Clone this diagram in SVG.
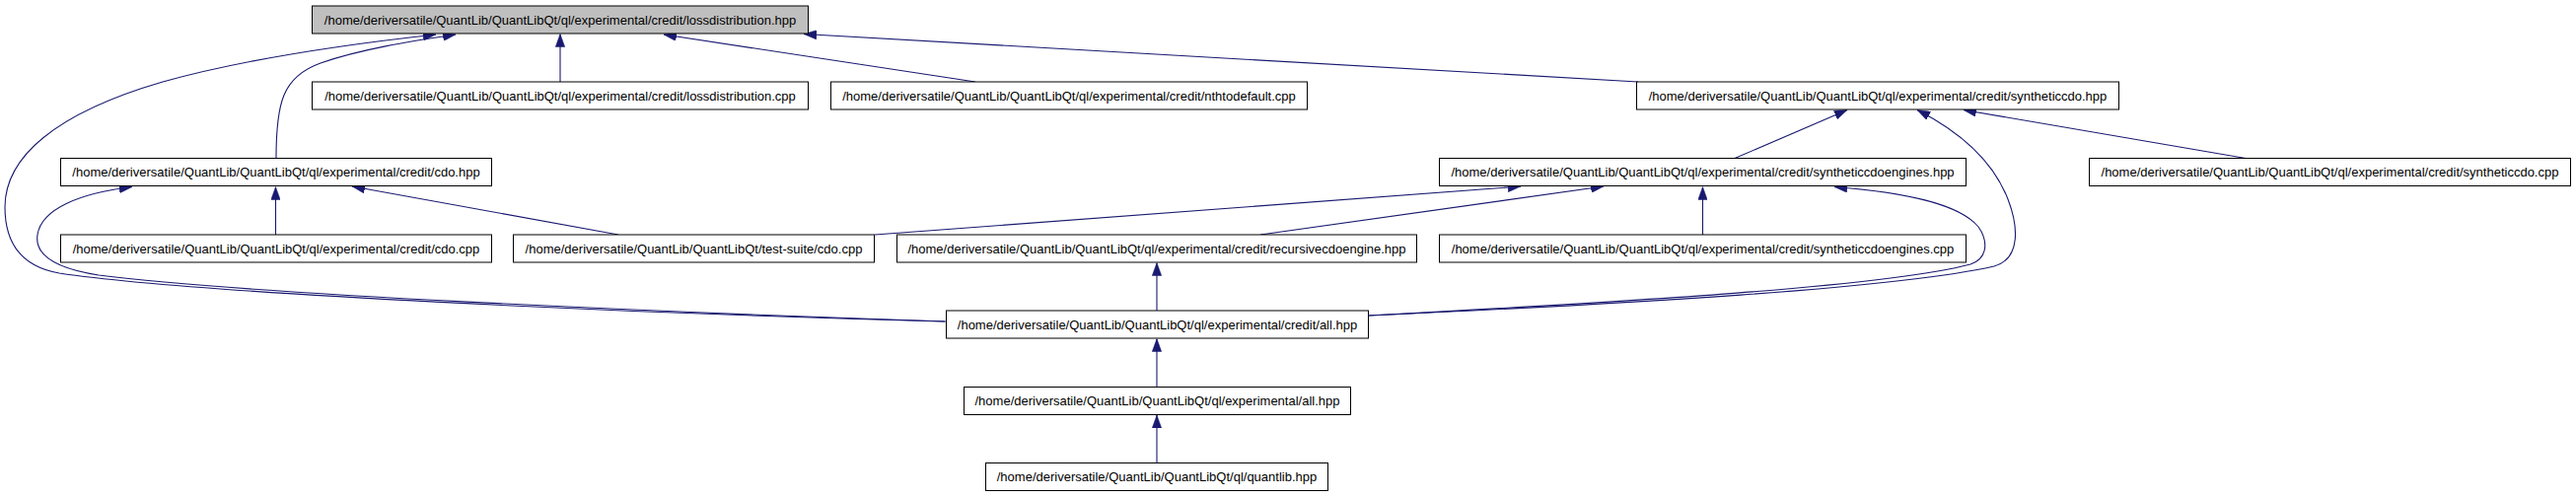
<svg xmlns="http://www.w3.org/2000/svg" width="2612" height="504" viewBox="0 0 2612 504">
<style>
.node rect{fill:#ffffff;stroke:#000000;stroke-width:1}
.node.root rect{fill:#bfbfbf}
.node text{font-family:"Liberation Sans",Arial,Helvetica,sans-serif;font-size:13px;fill:#000000;text-anchor:middle}
.edge{fill:none;stroke:#191970;stroke-width:1.1;marker-end:url(#arr)}
</style>
<defs>
<marker id="arr" viewBox="0 0 13 9.4" markerWidth="13" markerHeight="9.4" refX="13" refY="4.7" orient="auto" markerUnits="userSpaceOnUse">
<path d="M0,0 L13,4.7 L0,9.4 Z" fill="#191970" stroke="#191970" stroke-width="0.5"/>
</marker>
</defs>
<rect x="0" y="0" width="2612" height="504" fill="#ffffff"/>
<g id="connectors">
<path class="edge" d="M568,83 L568,34.5"/>
<path class="edge" d="M989,83 L673,35"/>
<path class="edge" d="M1661,83 L815,34.5"/>
<path class="edge" d="M280,160.5 C280,105 286,78 325,64 C365,50 415,42 462,35"/>
<path class="edge" d="M958.5,326 C650,318 200,298 60,277 C20,270 5,245 5,210 C5,160 55,115 165,83 C255,58 360,44 442,35"/>
<path class="edge" d="M279.5,238 L279.5,189.5"/>
<path class="edge" d="M627,238 L357,189"/>
<path class="edge" d="M958.5,326 C650,316 250,298 100,279 C55,272 35,258 38,238 C42,212 80,196 134,189.5"/>
<path class="edge" d="M1759,160.5 L1873,111.5"/>
<path class="edge" d="M2277,160.5 L1991,111.5"/>
<path class="edge" d="M1387.5,320 C1650,308 1920,293 2022,270 C2050,262 2046,228 2036,202 C2022,166 1990,135 1944,111.5"/>
<path class="edge" d="M887,238 L1542,189"/>
<path class="edge" d="M1278,238 L1626,189"/>
<path class="edge" d="M1726.5,238 L1726.5,189.5"/>
<path class="edge" d="M1387.5,320 C1650,306 1910,291 1998,268 C2016,262 2016,244 2006,230 C1986,206 1930,195 1860,189.5"/>
<path class="edge" d="M1173,315 L1173,266.5"/>
<path class="edge" d="M1173,392.5 L1173,343.5"/>
<path class="edge" d="M1173,469.5 L1173,421"/>
</g>
<g id="n0" class="node root"><rect x="316.5" y="6" width="503" height="28"/><text x="568" y="24.5">/home/deriversatile/QuantLib/QuantLibQt/ql/experimental/credit/lossdistribution.hpp</text></g>
<g id="n1" class="node"><rect x="316.5" y="83" width="503" height="28"/><text x="568" y="101.5">/home/deriversatile/QuantLib/QuantLibQt/ql/experimental/credit/lossdistribution.cpp</text></g>
<g id="n2" class="node"><rect x="842.5" y="83" width="483" height="28"/><text x="1084" y="101.5">/home/deriversatile/QuantLib/QuantLibQt/ql/experimental/credit/nthtodefault.cpp</text></g>
<g id="n3" class="node"><rect x="1659.5" y="83" width="489" height="28"/><text x="1904" y="101.5">/home/deriversatile/QuantLib/QuantLibQt/ql/experimental/credit/syntheticcdo.hpp</text></g>
<g id="n4" class="node"><rect x="61.5" y="160.5" width="437" height="28"/><text x="280" y="179">/home/deriversatile/QuantLib/QuantLibQt/ql/experimental/credit/cdo.hpp</text></g>
<g id="n5" class="node"><rect x="1459.5" y="160.5" width="534" height="28"/><text x="1726.5" y="179">/home/deriversatile/QuantLib/QuantLibQt/ql/experimental/credit/syntheticcdoengines.hpp</text></g>
<g id="n6" class="node"><rect x="2118.5" y="160.5" width="488" height="28"/><text x="2362.5" y="179">/home/deriversatile/QuantLib/QuantLibQt/ql/experimental/credit/syntheticcdo.cpp</text></g>
<g id="n7" class="node"><rect x="61.5" y="238" width="437" height="28"/><text x="280" y="256.5">/home/deriversatile/QuantLib/QuantLibQt/ql/experimental/credit/cdo.cpp</text></g>
<g id="n8" class="node"><rect x="520.5" y="238" width="366" height="28"/><text x="703.5" y="256.5">/home/deriversatile/QuantLib/QuantLibQt/test-suite/cdo.cpp</text></g>
<g id="n9" class="node"><rect x="909.5" y="238" width="527" height="28"/><text x="1173" y="256.5">/home/deriversatile/QuantLib/QuantLibQt/ql/experimental/credit/recursivecdoengine.hpp</text></g>
<g id="n10" class="node"><rect x="1459.5" y="238" width="534" height="28"/><text x="1726.5" y="256.5">/home/deriversatile/QuantLib/QuantLibQt/ql/experimental/credit/syntheticcdoengines.cpp</text></g>
<g id="n11" class="node"><rect x="959.5" y="315" width="428" height="28"/><text x="1173.5" y="333.5">/home/deriversatile/QuantLib/QuantLibQt/ql/experimental/credit/all.hpp</text></g>
<g id="n12" class="node"><rect x="977.5" y="392.5" width="392" height="28"/><text x="1173.5" y="411">/home/deriversatile/QuantLib/QuantLibQt/ql/experimental/all.hpp</text></g>
<g id="n13" class="node"><rect x="999.5" y="469.5" width="347" height="28"/><text x="1173" y="488">/home/deriversatile/QuantLib/QuantLibQt/ql/quantlib.hpp</text></g>
</svg>
